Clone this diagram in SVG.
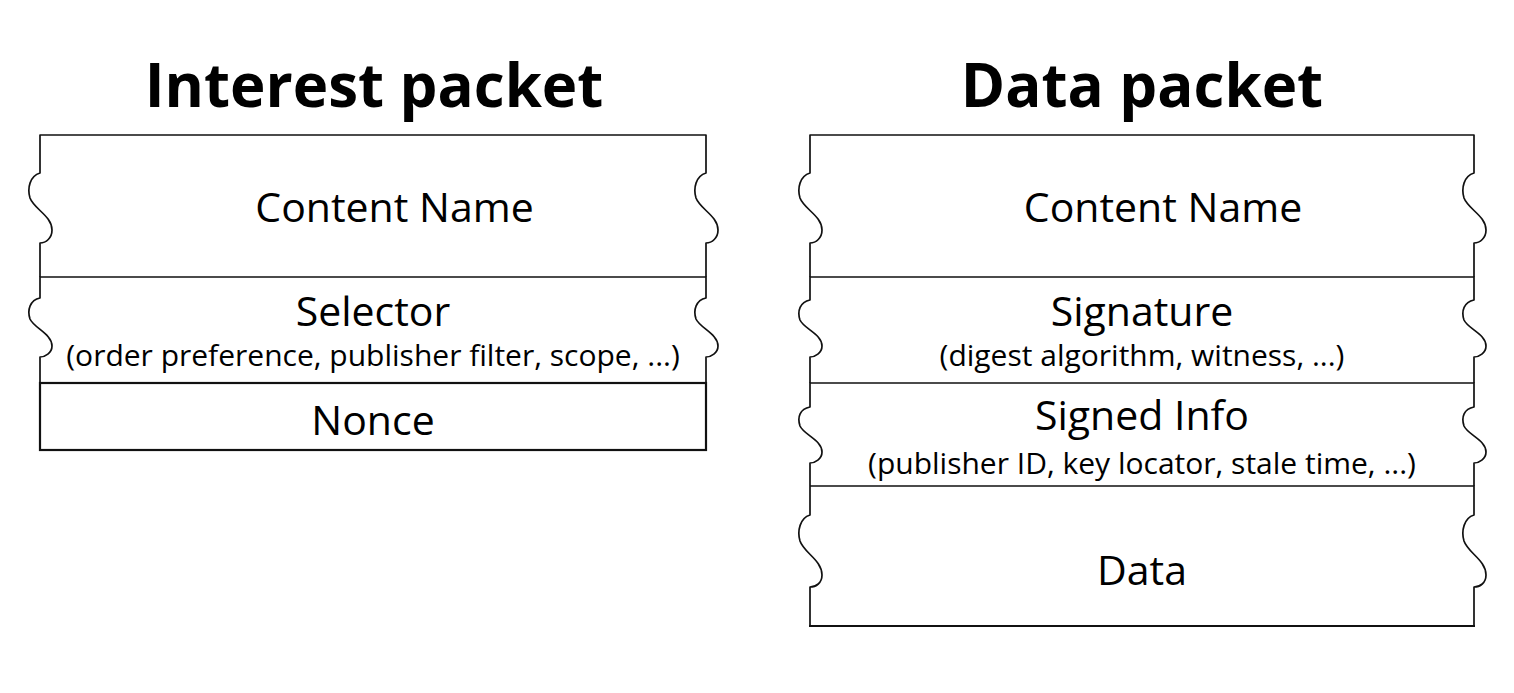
<svg xmlns="http://www.w3.org/2000/svg" width="1514" height="693" viewBox="0 0 1514 693">
<style>
.t{font-family:"Open Sans","Liberation Sans",sans-serif;font-weight:700;font-size:60px;fill:#000;text-anchor:middle}
.m{font-family:"Open Sans","Liberation Sans",sans-serif;font-size:41px;fill:#000;text-anchor:middle}
.s{font-family:"Open Sans","Liberation Sans",sans-serif;font-size:30px;fill:#000;text-anchor:middle}
.e{fill:none;stroke:#111;stroke-width:1.7;stroke-linejoin:round}
.b{fill:none;stroke:#111;stroke-width:2.2}
</style>
<rect width="1514" height="693" fill="#fff"/>
<g id="interest-packet">
<text class="t" x="374" y="107">Interest packet</text>
<g id="i-content-name">
<path class="e" d="M40,277 V243 C46,243 52,238 52,230 C52,216 34,209 30,198 C27,188 30,176 40,173 V135 H706 V173 C696,176 693,188 696,198 C700,209 718,216 718,230 C718,238 712,243 706,243 V277"/>
<text class="m" x="394.5" y="222">Content Name</text>
</g>
<g id="i-selector">
<path class="e" d="M40,383 V357 C45,357 52,353 52,346 C52,334 34,328 30,319 C27,310 30,300 40,298 V277 H706 V298 C696,300 693,310 696,319 C700,328 718,334 718,346 C718,353 711,357 706,357 V383"/>
<text class="m" x="373" y="326">Selector</text>
<text class="s" x="373" y="366">(order preference, publisher filter, scope, ...)</text>
</g>
<g id="i-nonce">
<rect class="b" x="40" y="383" width="666" height="67"/>
<text class="m" x="373" y="435">Nonce</text>
</g>
</g>
<g id="data-packet">
<text class="t" x="1142" y="107">Data packet</text>
<g id="d-content-name">
<path class="e" d="M810,277 V243 C816,243 822,238 822,230 C822,216 804,209 800,198 C797,188 800,176 810,173 V135 H1474 V173 C1464,176 1461,188 1464,198 C1468,209 1486,216 1486,230 C1486,238 1480,243 1474,243 V277"/>
<text class="m" x="1163" y="222">Content Name</text>
</g>
<g id="d-signature">
<path class="e" d="M810,383 V357 C815,357 822,353 822,346 C822,334 804,329 800,320 C797,311 800,302 810,300 V277 H1474 V300 C1464,302 1461,311 1464,320 C1468,329 1486,334 1486,346 C1486,353 1479,357 1474,357 V383"/>
<text class="m" x="1142" y="326">Signature</text>
<text class="s" x="1142" y="366">(digest algorithm, witness, ...)</text>
</g>
<g id="d-signed-info">
<path class="e" d="M810,486 V463 C815,463 822,459 822,452 C822,440 804,435 800,426 C797,417 800,409 810,407 V383 H1474 V407 C1464,409 1461,417 1464,426 C1468,435 1486,440 1486,452 C1486,459 1479,463 1474,463 V486"/>
<text class="m" x="1142" y="430">Signed Info</text>
<text class="s" x="1142" y="474">(publisher ID, key locator, stale time, ...)</text>
</g>
<g id="d-data">
<path class="e" d="M810,486 H1474 V515 C1464,518 1461,531 1464,541 C1468,553 1486,560 1486,575 C1486,583 1480,587 1474,587 V626 M810,486 V515 C800,518 797,531 800,541 C804,553 822,560 822,575 C822,583 816,587 810,587 V626"/>
<line class="b" x1="809" y1="626" x2="1475" y2="626"/>
<text class="m" x="1142" y="585">Data</text>
</g>
</g>
<g id="connectors"/>
</svg>
